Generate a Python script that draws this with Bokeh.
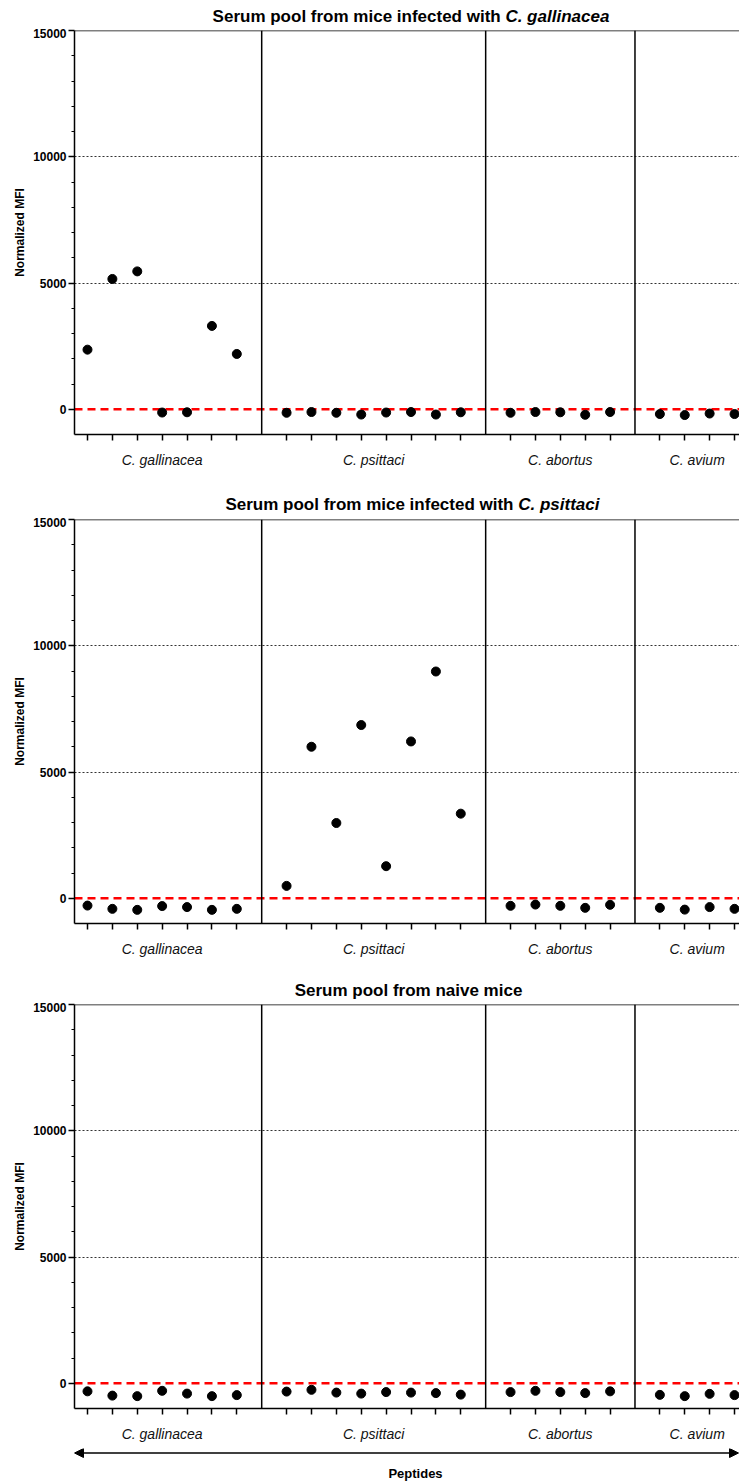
from bokeh.plotting import figure
from bokeh.layouts import column
from bokeh.models import (Range1d, FixedTicker, Span, Arrow, NormalHead,
                          ColumnDataSource)
from bokeh.core.properties import value
from bokeh.embed import file_html
from bokeh.resources import INLINE

# ---------------- data ----------------
groups = ["C. gallinacea", "C. psittaci", "C. abortus", "C. avium"]
group_sizes = [7, 8, 5, 4]

# Panel 1: serum pool from mice infected with C. gallinacea
p1_gallinacea = [2360, 5160, 5460, -130, -120, 3300, 2190]
p1_psittaci = [-140, -110, -140, -210, -130, -110, -210, -120]
p1_abortus = [-140, -110, -120, -220, -110]
p1_avium = [-190, -230, -170, -190]

# Panel 2: serum pool from mice infected with C. psittaci
p2_gallinacea = [-290, -420, -460, -310, -350, -460, -420]
p2_psittaci = [490, 6000, 2980, 6860, 1270, 6210, 8980, 3350]
p2_abortus = [-300, -250, -300, -380, -260]
p2_avium = [-380, -450, -350, -420]

# Panel 3: serum pool from naive mice
p3_gallinacea = [-320, -490, -510, -300, -410, -510, -470]
p3_psittaci = [-330, -260, -370, -410, -350, -370, -390, -450]
p3_abortus = [-350, -300, -350, -390, -320]
p3_avium = [-460, -510, -420, -470]

y_major_ticks = [0, 5000, 10000, 15000]
y_minor_ticks = list(range(1000, 15000, 1000))
grid_ticks = [5000, 10000]

title_prefix = "Serum pool from mice infected with"
title_species = ["C. gallinacea", "C. psittaci"]
title_naive = "Serum pool from naive mice"
y_label = "Normalized MFI"
x_label = "Peptides"

# ---------------- layout constants ----------------
FIG_W = 739
FRAME_L = 74
FRAME_H = 404
X0, X1 = 0.478, 27.2
Y0, Y1 = -1000, 15000
FONT = "Liberation Sans"

# x positions of peptides (one empty slot between species)
positions = []
dividers = []
start = 1
for i, n in enumerate(group_sizes):
    positions.append(list(range(start, start + n)))
    start += n + 1
    if i < len(group_sizes) - 1:
        dividers.append(start - 1)
all_positions = [x for grp in positions for x in grp]
centers = [sum(g) / len(g) for g in positions]


def blank_fig(height):
    # strip whose frame is aligned with the panels; x data = page pixels
    f = figure(width=FIG_W, height=height, output_backend="svg",
               toolbar_location=None, x_axis_type=None, y_axis_type=None,
               x_range=Range1d(FRAME_L, FIG_W), y_range=Range1d(0, height),
               min_border_left=FRAME_L, min_border_right=0,
               min_border_top=0, min_border_bottom=0)
    f.outline_line_color = None
    f.background_fill_color = "white"
    f.border_fill_color = "white"
    return f


def title_fig(height, parts, ymid):
    f = blank_fig(height)
    for text, style, align, x in parts:
        f.text(x=[x], y=[ymid], text=[text], text_font=value(FONT),
               text_font_style=value(style), text_font_size=value("17px"),
               text_align=value(align), text_baseline=value("middle"),
               text_color="black")
    return f


def make_panel(series, bottom):
    p = figure(width=FIG_W, height=2 + FRAME_H + bottom,
               output_backend="svg", toolbar_location=None,
               x_range=Range1d(X0, X1), y_range=Range1d(Y0, Y1),
               min_border_left=FRAME_L, min_border_right=0,
               min_border_top=2, min_border_bottom=bottom)
    p.outline_line_color = None
    p.background_fill_color = "white"
    p.border_fill_color = "white"

    # grid
    p.xgrid.visible = False
    p.ygrid.ticker = FixedTicker(ticks=grid_ticks)
    p.ygrid.grid_line_color = "#333333"
    p.ygrid.grid_line_dash = "2 2"
    p.ygrid.grid_line_width = 1

    # y axis
    ya = p.yaxis[0]
    ya.ticker = FixedTicker(ticks=y_major_ticks, minor_ticks=y_minor_ticks)
    ya.axis_line_color = "black"
    ya.axis_line_width = 1.5
    ya.major_tick_line_width = 1.5
    ya.major_tick_out = 6
    ya.major_tick_in = 0
    ya.minor_tick_out = 3
    ya.minor_tick_in = 0
    ya.minor_tick_line_color = "black"
    ya.major_label_standoff = 2
    ya.major_label_text_font = FONT
    ya.major_label_text_font_style = "bold"
    ya.major_label_text_font_size = "12px"
    ya.major_label_text_color = "black"
    ya.axis_label = y_label
    ya.axis_label_text_font = FONT
    ya.axis_label_text_font_style = "bold"
    ya.axis_label_text_font_size = "12px"
    ya.axis_label_text_color = "black"
    ya.axis_label_standoff = 3

    # x axis: minor ticks at peptides, species names at group centres
    xa = p.xaxis[0]
    xa.ticker = FixedTicker(ticks=centers, minor_ticks=all_positions)
    xa.major_label_overrides = {c: g for c, g in zip(centers, groups)}
    xa.axis_line_color = "black"
    xa.axis_line_width = 1.5
    xa.major_tick_out = 0
    xa.major_tick_in = 0
    xa.major_tick_line_color = None
    xa.minor_tick_out = 6
    xa.minor_tick_in = 0
    xa.minor_tick_line_color = "black"
    xa.minor_tick_line_width = 1.5
    xa.major_label_standoff = 11
    xa.major_label_text_font = FONT
    xa.major_label_text_font_style = "italic"
    xa.major_label_text_font_size = "14px"
    xa.major_label_text_color = "#111111"

    # top frame line and species dividers
    p.add_layout(Span(location=Y1, dimension="width", line_color="black",
                      line_width=1.5))
    for d in dividers:
        p.add_layout(Span(location=d, dimension="height", line_color="black",
                          line_width=1.5))
    # zero reference line
    p.add_layout(Span(location=0, dimension="width", line_color="#ff0000",
                      line_dash="8 5", line_width=2.5, level="underlay"))

    # points
    xs, ys = [], []
    for pos, vals in zip(positions, series):
        xs += pos
        ys += vals
    src = ColumnDataSource(dict(x=xs, y=ys))
    p.scatter("x", "y", source=src, size=9, color="black")
    return p


t1 = title_fig(28, [(title_prefix, "bold", "right", 500.2),
                    (title_species[0], "bold italic", "left", 504.9)], 12)
p1 = make_panel([p1_gallinacea, p1_psittaci, p1_abortus, p1_avium], 60)
t2 = title_fig(23, [(title_prefix, "bold", "right", 513.0),
                    (title_species[1], "bold italic", "left", 517.7)], 13.5)
p2 = make_panel([p2_gallinacea, p2_psittaci, p2_abortus, p2_avium], 57)
t3 = title_fig(22, [(title_naive, "bold", "center", 408)], 12)
p3 = make_panel([p3_gallinacea, p3_psittaci, p3_abortus, p3_avium], 40)

# bottom strip: double-headed arrow and "Peptides"
fa = blank_fig(35)
fa.add_layout(Arrow(x_start=FIG_W - 1, y_start=30.5, x_end=FRAME_L, y_end=30.5,
                    line_color="black", line_width=1.5,
                    start=NormalHead(size=9, fill_color="black", line_color="black"),
                    end=NormalHead(size=9, fill_color="black", line_color="black")))
fa.text(x=[415], y=[10], text=[x_label], text_font=value(FONT),
        text_font_style=value("bold"), text_font_size=value("13px"),
        text_align=value("center"), text_baseline=value("middle"),
        text_color="black")

layout = column(t1, p1, t2, p2, t3, p3, fa, spacing=0)
open("out.html", "w").write(file_html(layout, INLINE))
